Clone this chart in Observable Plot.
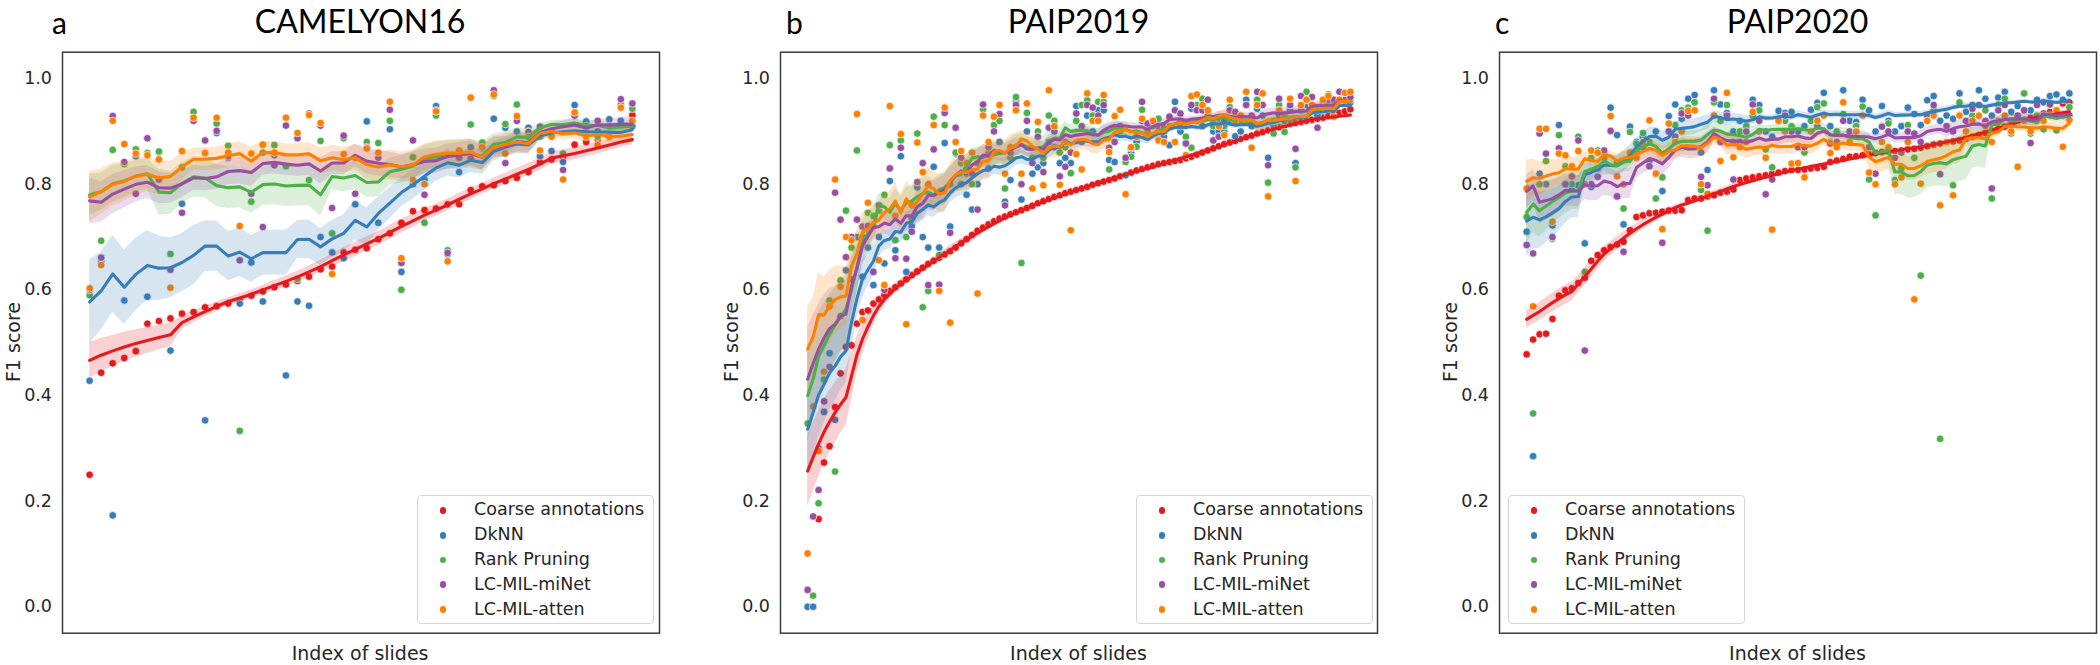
<!DOCTYPE html>
<html>
<head>
<meta charset="utf-8">
<script src="https://cdn.jsdelivr.net/npm/d3@7"></script>
<script src="https://cdn.jsdelivr.net/npm/@observablehq/plot@0.6"></script>
<style>
  html, body { margin: 0; padding: 0; background: #ffffff; }
  #root { position: relative; width: 2100px; height: 665px; overflow: hidden; background: #ffffff;
          font-family: "DejaVu Sans", sans-serif; color: #262626; }
  .panel { position: absolute; top: 0; }
  .panel svg { display: block; }
  .abs { position: absolute; white-space: nowrap; line-height: 1; }
  .title { font-family: Lato, "Open Sans", sans-serif; font-size: 32px; color: #000; }
  .letter { font-family: Lato, "Open Sans", sans-serif; font-size: 30px; color: #000; }
  .axlabel { font-size: 19px; color: #262626; line-height: 0.9; }
  .legend { position: absolute; box-sizing: border-box; border: 1px solid #d6d6d6; border-radius: 4px;
            background: rgba(255,255,255,0.85); }
  .legend .row { position: absolute; left: 0; height: 0; }
  .legend .sw { position: absolute; width: 6.8px; height: 6.8px; border-radius: 50%; }
  .legend .lt { position: absolute; font-size: 17.5px; line-height: 1; white-space: nowrap; color: #262626; }
</style>
</head>
<body>
<div id="root"></div>
<script>
// ---------------- data ----------------
const methods = ["Coarse annotations", "DkNN", "Rank Pruning", "LC-MIL-miNet", "LC-MIL-atten"];
const colors = ["#e41a1c", "#377eb8", "#4daf4a", "#984ea3", "#ff7f00"];
const panelLetters = ["a", "b", "c"];
const panelTitles = ["CAMELYON16", "PAIP2019", "PAIP2020"];
const yTicks = [0, 0.2, 0.4, 0.6, 0.8, 1.0];
const yLabel = "F1 score";
const xLabel = "Index of slides";

// CAMELYON16 (48 slides, sorted by coarse-annotation F1)
const camRed = [0.25,0.443,0.461,0.471,0.484,0.536,0.541,0.546,0.555,0.558,
  0.567,0.569,0.574,0.58,0.589,0.597,0.605,0.61,0.617,0.625,
  0.639,0.644,0.671,0.676,0.679,0.696,0.707,0.727,0.749,0.751,
  0.754,0.762,0.762,0.789,0.796,0.798,0.806,0.812,0.823,0.842,
  0.847,0.852,0.875,0.88,0.885,0.89,0.916,0.931];
const camBlue = [0.428,0.653,0.173,0.580,0.853,0.587,0.86,0.485,0.763,0.920,
  0.353,0.897,0.85,0.574,0.652,0.578,0.855,0.438,0.578,0.570,
  0.70,0.671,0.66,0.762,0.919,0.727,0.904,0.634,0.80,0.809,
  0.948,0.667,0.823,0.87,0.87,0.924,0.907,0.90,0.907,0.853,
  0.863,0.842,0.950,0.919,0.90,0.923,0.92,0.910];
const camGreen = [0.590,0.693,0.865,0.838,0.866,0.859,0.862,0.668,0.832,0.937,
  0.86,0.915,0.873,0.333,0.767,0.86,0.874,0.834,0.621,0.808,
  0.882,0.707,0.887,0.85,0.880,0.878,0.92,0.600,0.851,0.727,
  0.93,0.675,0.85,0.913,0.879,0.967,0.914,0.951,0.90,0.89,
  0.90,0.858,0.93,0.90,0.890,0.91,0.951,0.943];
const camPurple = [0.60,0.661,0.929,0.842,0.782,0.887,0.809,0.638,0.746,0.92,
  0.883,0.901,0.853,0.656,0.782,0.719,0.836,0.911,0.887,0.934,
  0.911,0.755,0.892,0.782,0.87,0.85,0.941,0.651,0.883,0.78,
  0.94,0.67,0.85,0.849,0.868,0.978,0.840,0.92,0.899,0.909,
  0.90,0.827,0.93,0.91,0.92,0.91,0.961,0.953];
const camOrange = [0.603,0.647,0.920,0.876,0.858,0.855,0.847,0.604,0.863,0.926,
  0.859,0.926,0.86,0.721,0.858,0.875,0.86,0.926,0.897,0.931,
  0.916,0.630,0.857,0.85,0.868,0.86,0.956,0.66,0.808,0.80,
  0.938,0.654,0.864,0.964,0.87,0.97,0.858,0.929,0.89,0.864,
  0.89,0.809,0.936,0.89,0.874,0.89,0.945,0.92];

// PAIP2019 (100 slides)
const p19Red = [0,0,0.166,0.273,0.304,0.378,0.442,0.492,0.495,0.536,
  0.558,0.561,0.574,0.582,0.59,0.598,0.605,0.612,0.62,0.628,
  0.635,0.642,0.649,0.655,0.661,0.667,0.673,0.68,0.688,0.696,
  0.704,0.712,0.718,0.724,0.73,0.735,0.739,0.743,0.747,0.751,
  0.755,0.759,0.764,0.768,0.772,0.776,0.779,0.783,0.786,0.789,
  0.792,0.795,0.799,0.802,0.805,0.808,0.811,0.815,0.818,0.822,
  0.826,0.829,0.832,0.835,0.838,0.84,0.842,0.844,0.846,0.849,
  0.852,0.856,0.86,0.864,0.868,0.872,0.876,0.879,0.882,0.886,
  0.889,0.892,0.896,0.899,0.902,0.905,0.908,0.911,0.914,0.916,
  0.918,0.92,0.922,0.924,0.926,0.929,0.932,0.935,0.938,0.942];
const p19Blue = [0,0,0.30,0.369,0.48,0.354,0.55,0.637,0.62,0.70,
  0.625,0.68,0.609,0.70,0.65,0.806,0.675,0.853,0.634,0.72,
  0.794,0.70,0.68,0.833,0.68,0.878,0.72,0.858,0.80,0.78,
  0.752,0.80,0.93,0.83,0.86,0.88,0.767,0.808,0.956,0.771,
  0.90,0.82,0.832,0.840,0.88,0.87,0.84,0.85,0.84,0.948,
  0.88,0.93,0.90,0.94,0.940,0.846,0.842,0.90,0.817,0.86,
  0.88,0.92,0.89,0.912,0.90,0.89,0.874,0.956,0.90,0.88,
  0.943,0.92,0.91,0.935,0.90,0.90,0.90,0.92,0.891,0.90,
  0.96,0.91,0.943,0.93,0.85,0.91,0.93,0.92,0.94,0.840,
  0.94,0.95,0.94,0.93,0.95,0.95,0.95,0.96,0.96,0.955];
const p19Green = [0.347,0.021,0.196,0.43,0.580,0.256,0.618,0.750,0.68,0.864,
  0.70,0.746,0.74,0.75,0.78,0.874,0.694,0.883,0.70,0.735,
  0.896,0.567,0.598,0.928,0.666,0.912,0.80,0.86,0.84,0.82,
  0.80,0.84,0.942,0.86,0.912,0.92,0.792,0.85,0.965,0.651,
  0.935,0.85,0.90,0.85,0.93,0.920,0.86,0.87,0.821,0.92,
  0.950,0.959,0.93,0.956,0.956,0.828,0.88,0.90,0.842,0.852,
  0.871,0.941,0.90,0.91,0.924,0.90,0.91,0.941,0.91,0.89,
  0.869,0.95,0.962,0.93,0.91,0.92,0.91,0.946,0.92,0.92,
  0.95,0.92,0.96,0.95,0.803,0.896,0.950,0.899,0.95,0.832,
  0.95,0.975,0.95,0.94,0.95,0.970,0.95,0.96,0.96,0.96];
const p19Purple = [0.032,0.171,0.221,0.389,0.454,0.784,0.733,0.662,0.70,0.733,
  0.72,0.721,0.634,0.76,0.60,0.83,0.66,0.869,0.659,0.710,
  0.804,0.840,0.609,0.866,0.610,0.935,0.708,0.907,0.85,0.83,
  0.82,0.752,0.951,0.87,0.90,0.933,0.76,0.86,0.95,0.80,
  0.92,0.84,0.89,0.823,0.907,0.90,0.815,0.833,0.86,0.934,
  0.91,0.95,0.945,0.93,0.95,0.869,0.88,0.91,0.85,0.868,
  0.89,0.956,0.915,0.92,0.91,0.91,0.928,0.94,0.934,0.877,
  0.95,0.94,0.94,0.960,0.883,0.890,0.92,0.94,0.937,0.93,
  0.95,0.93,0.975,0.95,0.836,0.92,0.962,0.93,0.95,0.867,
  0.967,0.96,0.965,0.907,0.96,0.96,0.96,0.975,0.96,0.965];
const p19Orange = [0.101,0.379,0.295,0.445,0.569,0.809,0.606,0.70,0.694,0.933,
  0.543,0.765,0.72,0.656,0.609,0.948,0.74,0.895,0.535,0.76,
  0.879,0.823,0.80,0.912,0.598,0.945,0.538,0.88,0.863,0.84,
  0.86,0.593,0.93,0.880,0.928,0.950,0.82,0.87,0.94,0.82,
  0.953,0.792,0.918,0.798,0.978,0.91,0.799,0.88,0.713,0.857,
  0.828,0.972,0.92,0.92,0.969,0.861,0.929,0.941,0.781,0.87,
  0.89,0.924,0.90,0.92,0.883,0.880,0.91,0.880,0.92,0.855,
  0.967,0.970,0.950,0.94,0.92,0.91,0.893,0.960,0.92,0.93,
  0.975,0.869,0.95,0.972,0.777,0.92,0.94,0.93,0.962,0.806,
  0.95,0.96,0.95,0.94,0.96,0.967,0.928,0.96,0.973,0.975];

// PAIP2020 (85 slides)
const p20Red = [0.478,0.506,0.516,0.517,0.545,0.589,0.599,0.603,0.613,0.623,
  0.655,0.666,0.675,0.681,0.686,0.691,0.713,0.738,0.741,0.745,
  0.746,0.748,0.750,0.750,0.751,0.770,0.773,0.773,0.777,0.779,
  0.784,0.786,0.790,0.808,0.811,0.813,0.815,0.817,0.820,0.822,
  0.825,0.827,0.827,0.828,0.830,0.831,0.833,0.842,0.845,0.848,
  0.852,0.853,0.855,0.857,0.859,0.861,0.862,0.863,0.864,0.866,
  0.867,0.869,0.872,0.875,0.877,0.879,0.881,0.883,0.886,0.89,
  0.893,0.897,0.901,0.905,0.909,0.913,0.918,0.922,0.926,0.931,
  0.934,0.937,0.94,0.953,0.955];
const p20Blue = [0.710,0.285,0.820,0.80,0.722,0.912,0.80,0.79,0.798,0.688,
  0.795,0.83,0.85,0.945,0.893,0.724,0.909,0.88,0.89,0.844,
  0.90,0.787,0.929,0.951,0.924,0.962,0.969,0.860,0.827,0.978,
  0.951,0.935,0.90,0.92,0.91,0.960,0.950,0.90,0.89,0.939,
  0.935,0.937,0.90,0.91,0.941,0.954,0.973,0.91,0.90,0.978,
  0.92,0.918,0.960,0.940,0.90,0.948,0.92,0.90,0.91,0.945,
  0.933,0.912,0.959,0.967,0.92,0.93,0.924,0.972,0.937,0.95,
  0.978,0.962,0.93,0.964,0.975,0.937,0.948,0.94,0.940,0.96,
  0.955,0.967,0.97,0.96,0.972];
const p20Green = [0.738,0.366,0.80,0.844,0.697,0.893,0.834,0.80,0.890,0.634,
  0.85,0.864,0.86,0.90,0.84,0.754,0.899,0.877,0.897,0.88,
  0.773,0.813,0.90,0.912,0.940,0.945,0.955,0.789,0.712,0.955,
  0.92,0.950,0.88,0.90,0.91,0.93,0.940,0.866,0.832,0.92,
  0.92,0.91,0.87,0.86,0.92,0.946,0.953,0.88,0.90,0.933,
  0.90,0.91,0.947,0.809,0.741,0.91,0.915,0.808,0.83,0.912,
  0.85,0.627,0.93,0.94,0.318,0.905,0.798,0.955,0.92,0.93,
  0.95,0.94,0.773,0.951,0.962,0.896,0.92,0.972,0.896,0.93,
  0.904,0.95,0.902,0.93,0.946];
const p20Purple = [0.685,0.669,0.896,0.858,0.70,0.868,0.80,0.815,0.883,0.485,
  0.80,0.814,0.864,0.901,0.777,0.672,0.85,0.86,0.87,0.834,
  0.819,0.689,0.90,0.89,0.934,0.93,0.94,0.814,0.798,0.962,
  0.88,0.93,0.809,0.88,0.90,0.951,0.92,0.781,0.809,0.92,
  0.93,0.90,0.87,0.87,0.90,0.91,0.931,0.877,0.88,0.92,
  0.90,0.90,0.93,0.87,0.820,0.909,0.90,0.85,0.86,0.90,
  0.896,0.88,0.93,0.95,0.819,0.91,0.90,0.931,0.92,0.943,
  0.95,0.92,0.792,0.94,0.95,0.92,0.93,0.94,0.878,0.95,
  0.93,0.951,0.94,0.93,0.93];
const p20Orange = [0.792,0.569,0.905,0.905,0.729,0.858,0.855,0.834,0.863,0.80,
  0.864,0.86,0.85,0.929,0.815,0.80,0.86,0.85,0.88,0.921,
  0.82,0.715,0.915,0.88,0.90,0.939,0.940,0.800,0.782,0.93,
  0.844,0.973,0.851,0.87,0.88,0.937,0.90,0.85,0.714,0.92,
  0.90,0.839,0.840,0.813,0.90,0.92,0.93,0.859,0.87,0.955,
  0.88,0.90,0.93,0.822,0.80,0.88,0.87,0.80,0.813,0.88,
  0.582,0.801,0.92,0.93,0.760,0.88,0.779,0.93,0.90,0.92,
  0.93,0.91,0.88,0.92,0.93,0.90,0.833,0.92,0.90,0.92,
  0.92,0.93,0.94,0.871,0.922];

// ---------------- layout ----------------
const panelSeries = [
  [camRed, camBlue, camGreen, camPurple, camOrange],
  [p19Red, p19Blue, p19Green, p19Purple, p19Orange],
  [p20Red, p20Blue, p20Green, p20Purple, p20Orange]
];
const frameLeft = [61.6, 780, 1499];
const legendLeft = [417, 1136, 1508];
const letterLeft = [52, 786, 1495];
const FW = 597, FT = 51.7, FB = 632.7, H = 665, ML = 62, MR = 4;
const HALF = 7; // centred rolling window of 15 slides

function toRows(series) {
  const out = [];
  series.forEach((vals, mi) => vals.forEach((v, i) => out.push({i, v, method: methods[mi]})));
  return out;
}
function rolling(series) {
  const out = [];
  series.forEach((vals, mi) => {
    const n = vals.length;
    for (let i = 0; i < n; i++) {
      const w = vals.slice(Math.max(0, i - HALF), Math.min(n, i + HALF + 1));
      const m = d3.mean(w);
      const se = (d3.deviation(w) || 0) / Math.sqrt(w.length);
      out.push({i, m, lo: m - se, hi: m + se, method: methods[mi]});
    }
  });
  return out;
}
function addText(cls, text, left, top, transform) {
  const d = document.createElement("div");
  d.className = "abs " + cls;
  d.textContent = text;
  d.style.left = left + "px";
  d.style.top = top + "px";
  if (transform) d.style.transform = transform;
  root.append(d);
  return d;
}

const root = document.getElementById("root");

panelSeries.forEach((series, pi) => {
  const L = frameLeft[pi];
  const N = series[0].length;
  const pts = toRows(series);
  const sm = rolling(series);
  const plot = Plot.plot({
    width: ML + FW + MR,
    height: H,
    marginLeft: ML, marginRight: MR, marginTop: FT, marginBottom: H - FB,
    style: {fontFamily: "DejaVu Sans", fontSize: "17.5px", color: "#262626", background: "transparent", overflow: "visible"},
    x: {domain: [-0.05 * (N - 1), 1.05 * (N - 1)], axis: null},
    y: {domain: [-0.05, 1.05]},
    color: {domain: methods, range: colors},
    marks: [
      Plot.axisY({ticks: yTicks, tickSize: 0, tickPadding: 10.5, tickFormat: d => d.toFixed(1), fontSize: 17.5, label: null}),
      Plot.dot(pts, {x: "i", y: "v", fill: "method", r: 3.8, stroke: "white", strokeWidth: 0.7}),
      Plot.areaY(sm, {x: "i", y1: "lo", y2: "hi", fill: "method", z: "method", fillOpacity: 0.2}),
      Plot.lineY(sm, {x: "i", y: "m", stroke: "method", z: "method", strokeWidth: 3.1}),
      Plot.frame({stroke: "#3c3c3c", strokeWidth: 1.5})
    ]
  });
  const div = document.createElement("div");
  div.className = "panel";
  div.style.left = (L - ML) + "px";
  div.append(plot);
  root.append(div);

  // panel letter and title
  addText("letter", panelLetters[pi], letterLeft[pi], 7);
  addText("title", panelTitles[pi], L + FW / 2, 5, "translateX(-50%)");
  // axis labels
  addText("axlabel", yLabel, L - 48, (FT + FB) / 2, "translate(-50%,-50%) rotate(-90deg)");
  addText("axlabel", xLabel, L + FW / 2, 645, "translateX(-50%)");

  // legend
  const lg = document.createElement("div");
  lg.className = "legend";
  lg.style.left = legendLeft[pi] + "px";
  lg.style.top = "495px";
  lg.style.width = "237px";
  lg.style.height = "129px";
  methods.forEach((m, mi) => {
    const row = document.createElement("div");
    row.className = "row";
    row.style.top = (14.3 + 24.8 * mi) + "px";
    const sw = document.createElement("div");
    sw.className = "sw";
    sw.style.background = colors[mi];
    sw.style.left = (25 - 3.4) + "px";
    sw.style.top = "-3.4px";
    const lt = document.createElement("div");
    lt.className = "lt";
    lt.textContent = m;
    lt.style.left = "56px";
    lt.style.top = "-9px";
    row.append(sw, lt);
    lg.append(row);
  });
  root.append(lg);
});
</script>
</body>
</html>
